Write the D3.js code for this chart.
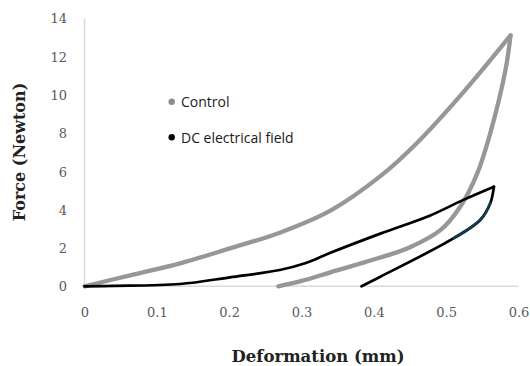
<!DOCTYPE html>
<html>
<head>
<meta charset="utf-8">
<script src="https://cdn.jsdelivr.net/npm/d3@7/dist/d3.min.js"></script>
<style>
  html, body { margin: 0; padding: 0; background: #fff; }
  svg { display: block; }
</style>
</head>
<body>
<svg id="chart" width="530" height="366"></svg>
<script>
// ---- Data ----
const xTicks = [0, 0.1, 0.2, 0.3, 0.4, 0.5, 0.6];
const yTicks = [0, 2, 4, 6, 8, 10, 12, 14];

// Control: loading branch
const controlLoadX = [0, 0.063, 0.132, 0.201, 0.270, 0.340, 0.409, 0.460, 0.523, 0.589];
const controlLoadY = [0, 0.57, 1.2, 1.98, 2.8, 3.95, 5.75, 7.5, 10.1, 13.1];
// Control: unloading branch
const controlUnloadX = [0.589, 0.582, 0.561, 0.543, 0.519, 0.492, 0.450, 0.409, 0.340, 0.300, 0.268];
const controlUnloadY = [13.1, 11.3, 8.0, 5.9, 4.13, 2.93, 2.04, 1.5, 0.73, 0.28, 0];

// DC electrical field: loading branch
const dcLoadX = [0, 0.04, 0.132, 0.201, 0.270, 0.305, 0.340, 0.409, 0.478, 0.523, 0.566];
const dcLoadY = [0, 0.02, 0.12, 0.47, 0.85, 1.2, 1.75, 2.75, 3.7, 4.5, 5.2];
// DC electrical field: unloading branch
const dcUnloadX = [0.566, 0.561, 0.547, 0.510, 0.409, 0.383];
const dcUnloadY = [5.2, 4.34, 3.46, 2.5, 0.5, 0];

const seriesNames = ["Control", "DC electrical field"];
const seriesColors = ["#979797", "#000000"];

// ---- Layout ----
const svg = d3.select("#chart");
const x = d3.scaleLinear().domain([0, 0.6]).range([84.5, 518.5]);
const y = d3.scaleLinear().domain([0, 14]).range([286.3, 18.2]);

const zip = (xs, ys) => xs.map((v, i) => [v, ys[i]]);
const line = d3.line().x(d => x(d[0])).y(d => y(d[1])).curve(d3.curveCatmullRom.alpha(0.5));

// Axes lines
svg.append("line").attr("x1", x(0)).attr("x2", x(0)).attr("y1", y(14)).attr("y2", y(0))
  .attr("stroke", "#d9d9d9").attr("stroke-width", 1.5);
svg.append("line").attr("x1", x(0)).attr("x2", x(0.6)).attr("y1", y(0)).attr("y2", y(0))
  .attr("stroke", "#d9d9d9").attr("stroke-width", 1.5);

// Tick labels via axes (no tick lines)
const xAxis = d3.axisBottom(x).tickValues(xTicks).tickSize(0).tickPadding(0)
  .tickFormat(d => d === 0 ? "0" : d3.format(".1f")(d));
const gx = svg.append("g").attr("transform", "translate(0,316.5)").call(xAxis);
gx.select(".domain").remove();
gx.selectAll("text").attr("dy", 0).attr("y", 0)
  .attr("font-family", "DejaVu Serif").attr("font-size", 13).attr("fill", "#595959");

const yAxis = d3.axisLeft(y).tickValues(yTicks).tickSize(0).tickPadding(0).tickFormat(d3.format("d"));
const gy = svg.append("g").attr("transform", "translate(67,0)").call(yAxis);
gy.select(".domain").remove();
gy.selectAll("text").attr("x", 0).attr("dy", "0.36em")
  .attr("font-family", "DejaVu Serif").attr("font-size", 13).attr("fill", "#595959");
svg.selectAll(".tick line").remove();

// Curves
function drawPath(xs, ys, color, width) {
  svg.append("path").datum(zip(xs, ys)).attr("d", line)
    .attr("fill", "none").attr("stroke", color).attr("stroke-width", width)
    .attr("stroke-linecap", "round").attr("stroke-linejoin", "round");
}
drawPath(controlLoadX, controlLoadY, seriesColors[0], 4.3);
drawPath(controlUnloadX, controlUnloadY, seriesColors[0], 4.3);
drawPath(dcLoadX, dcLoadY, seriesColors[1], 2.7);
drawPath(dcUnloadX, dcUnloadY, seriesColors[1], 2.7);
// dark teal tint on part of the DC unloading branch
drawPath(dcUnloadX.slice(1, 4), dcUnloadY.slice(1, 4), "#17394a", 2.7);

// Legend
const legendY = [101.7, 137.3];
seriesNames.forEach((name, i) => {
  svg.append("circle").attr("cx", 171.7).attr("cy", legendY[i]).attr("r", 3.2)
    .attr("fill", seriesColors[i] === "#000000" ? "#000" : "#8c8c8c");
  svg.append("text").attr("x", 181).attr("y", legendY[i] + 5.2)
    .attr("font-family", "Open Sans").attr("font-size", 14).attr("fill", "#1a1a1a")
    .text(name);
});

// Axis titles
svg.append("text").attr("x", 318).attr("y", 362).attr("text-anchor", "middle")
  .attr("font-family", "DejaVu Serif").attr("font-weight", "bold").attr("font-size", 16.5)
  .attr("fill", "#222").text("Deformation (mm)");
svg.append("text").attr("transform", "translate(25,152) rotate(-90)").attr("text-anchor", "middle")
  .attr("font-family", "DejaVu Serif").attr("font-weight", "bold").attr("font-size", 16)
  .attr("fill", "#222").text("Force (Newton)");
</script>
</body>
</html>
